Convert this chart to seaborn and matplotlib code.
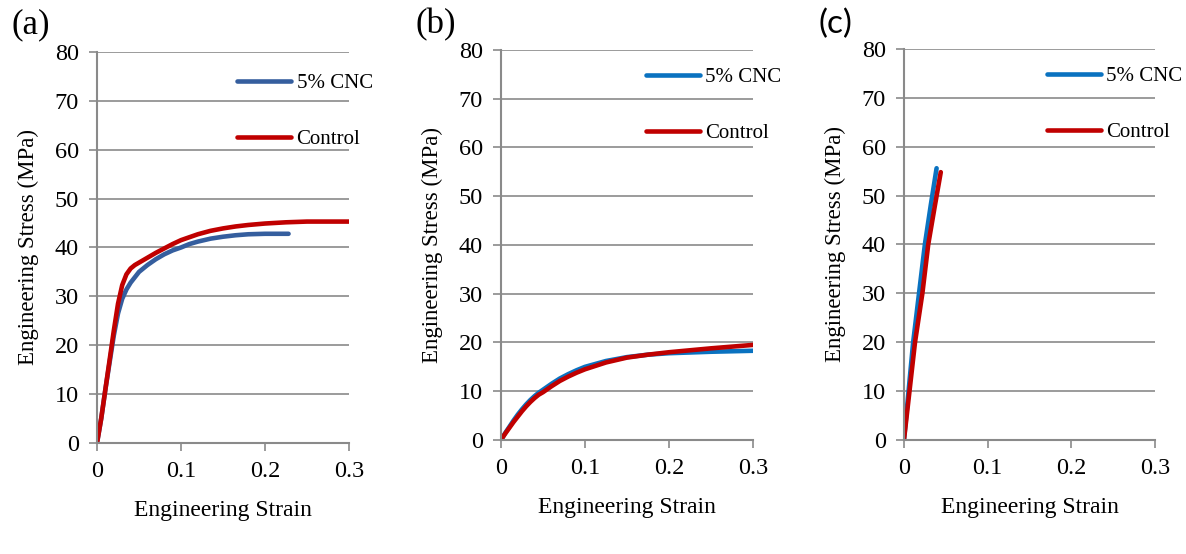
import matplotlib
matplotlib.use("Agg")
import matplotlib.pyplot as plt
import seaborn as sns
import pandas as pd

# (a) stress-strain curves
a_cnc_strain = [0, 0.005, 0.010, 0.015, 0.020, 0.025, 0.030, 0.035, 0.040, 0.050, 0.060, 0.070, 0.080,
                0.090, 0.100, 0.110, 0.120, 0.135, 0.150, 0.165, 0.180, 0.200, 0.228]
a_cnc_stress = [0, 5.0, 11.0, 16.5, 22.0, 26.5, 29.5, 31.4, 32.8, 35.0, 36.4, 37.6, 38.6,
                39.4, 40.0, 40.7, 41.2, 41.8, 42.2, 42.5, 42.7, 42.8, 42.8]
a_ctl_strain = [0, 0.005, 0.010, 0.015, 0.020, 0.025, 0.030, 0.035, 0.040, 0.045, 0.050, 0.060, 0.070,
                0.080, 0.090, 0.100, 0.110, 0.120, 0.135, 0.150, 0.165, 0.180, 0.200, 0.225, 0.250, 0.300]
a_ctl_stress = [0, 5.0, 11.0, 17.0, 23.0, 28.5, 32.3, 34.5, 35.7, 36.4, 36.9, 37.9, 38.9,
                39.8, 40.7, 41.5, 42.1, 42.7, 43.4, 43.9, 44.3, 44.6, 44.9, 45.15, 45.3, 45.3]

# (b) stress-strain curves
b_cnc_strain = [0, 0.005, 0.010, 0.015, 0.020, 0.025, 0.030, 0.035, 0.040, 0.045, 0.050, 0.060, 0.070,
                0.080, 0.090, 0.100, 0.125, 0.150, 0.175, 0.200, 0.250, 0.300]
b_cnc_stress = [0, 1.4, 2.7, 4.0, 5.2, 6.3, 7.3, 8.2, 9.0, 9.7, 10.3, 11.5, 12.6,
                13.5, 14.3, 15.0, 16.2, 17.0, 17.5, 17.8, 18.1, 18.3]
b_ctl_strain = [0, 0.005, 0.010, 0.015, 0.020, 0.025, 0.030, 0.035, 0.040, 0.045, 0.050, 0.060, 0.070,
                0.080, 0.090, 0.100, 0.125, 0.150, 0.175, 0.200, 0.250, 0.300]
b_ctl_stress = [0, 1.3, 2.5, 3.7, 4.8, 5.9, 6.9, 7.8, 8.6, 9.3, 9.8, 11.0, 12.1,
                13.0, 13.8, 14.5, 15.9, 16.9, 17.5, 18.0, 18.8, 19.5]

# (c) stress-strain curves
c_cnc_strain = [0, 0.011, 0.025, 0.032, 0.039]
c_cnc_stress = [0, 20, 40, 48, 55.6]
c_ctl_strain = [0, 0.0132, 0.022, 0.029, 0.037, 0.044]
c_ctl_stress = [0, 20, 30, 40, 48, 54.8]

series_names = ["5% CNC", "Control"]
panel_labels = ["(a)", "(b)", "(c)"]
y_ticks = [0, 10, 20, 30, 40, 50, 60, 70, 80]
x_ticks = [0, 0.1, 0.2, 0.3]
x_tick_labels = ["0", "0.1", "0.2", "0.3"]

sns.set_theme(style="white")
plt.rcParams["font.family"] = ["Liberation Serif", "DejaVu Serif"]
plt.rcParams["text.color"] = "black"
plt.rcParams["axes.labelcolor"] = "black"

GRID = "#8a8a8a"
RED = "#c00000"
palettes = [
    {"5% CNC": "#355e9e", "Control": RED},
    {"5% CNC": "#0a72c0", "Control": RED},
    {"5% CNC": "#0a72c0", "Control": RED},
]

def frame(cnc_x, cnc_y, ctl_x, ctl_y):
    d1 = pd.DataFrame({"strain": cnc_x, "stress": cnc_y, "sample": series_names[0]})
    d2 = pd.DataFrame({"strain": ctl_x, "stress": ctl_y, "sample": series_names[1]})
    return pd.concat([d1, d2], ignore_index=True)

data = [
    frame(a_cnc_strain, a_cnc_stress, a_ctl_strain, a_ctl_stress),
    frame(b_cnc_strain, b_cnc_stress, b_ctl_strain, b_ctl_stress),
    frame(c_cnc_strain, c_cnc_stress, c_ctl_strain, c_ctl_stress),
]

fig = plt.figure(figsize=(11.86, 5.54), dpi=100)
rects = [
    [0.0818, 0.2004, 0.2125, 0.7058],
    [0.4224, 0.2058, 0.2125, 0.7040],
    [0.7622, 0.2058, 0.2116, 0.7058],
]
legend_anchor = [(0.556, 0.945), (0.575, 0.955), (0.57, 0.955)]
label_pos = [(0.010, 0.985), (0.350, 0.985), (0.690, 0.985)]

for i, df in enumerate(data):
    ax = fig.add_axes(rects[i])
    sns.lineplot(data=df, x="strain", y="stress", hue="sample", palette=palettes[i],
                 sort=False, estimator=None, linewidth=3.3, ax=ax, legend=True)
    for ln in ax.get_lines():
        ln.set_solid_capstyle("round")
        ln.set_solid_joinstyle("round")
    ax.set_xlim(0, 0.3)
    ax.set_ylim(0, 80)
    ax.set_yticks(y_ticks)
    ax.set_xticks(x_ticks)
    ax.set_xticklabels(x_tick_labels)
    ax.yaxis.grid(True, color=GRID, linewidth=1.2)
    ax.xaxis.grid(False)
    ax.set_axisbelow(True)
    for s in ["top", "right"]:
        ax.spines[s].set_visible(False)
    for s in ["left", "bottom"]:
        ax.spines[s].set_color(GRID)
        ax.spines[s].set_linewidth(1.5)
    ax.tick_params(axis="both", which="major", direction="out", length=6, width=1.2,
                   color=GRID, labelsize=17.5, labelcolor="black", pad=7,
                   left=True, bottom=True)
    ax.set_xlabel("Engineering Strain", fontsize=17, labelpad=13, color="black")
    ax.set_ylabel("Engineering Stress (MPa)", fontsize=16.5, labelpad=11, color="black")
    handles, labels = ax.get_legend_handles_labels()
    for h in handles:
        h.set_linewidth(3.3)
    leg = ax.legend(handles, labels, loc="upper left", bbox_to_anchor=legend_anchor[i],
                    frameon=False, fontsize=15, handlelength=2.6, handletextpad=0.25,
                    labelspacing=1.75, borderpad=0, borderaxespad=0)
    for t in leg.get_texts():
        t.set_color("black")
    if i < 2:
        fig.text(label_pos[i][0], label_pos[i][1], panel_labels[i], fontsize=25,
                 ha="left", va="top", color="black",
                 family=["Liberation Serif", "DejaVu Serif"])
    else:
        fig.text(label_pos[i][0], label_pos[i][1], panel_labels[i], fontsize=24,
                 ha="left", va="top", color="black", family=["Lato", "DejaVu Sans"])

fig.savefig("out.png", dpi=100)
